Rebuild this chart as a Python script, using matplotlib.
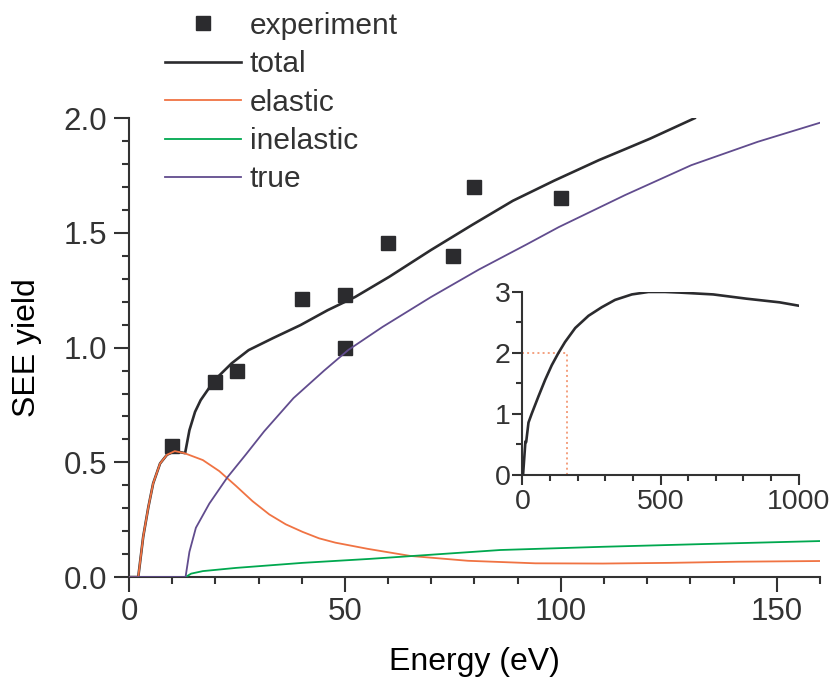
import matplotlib
matplotlib.use('Agg')
import matplotlib.pyplot as plt
from matplotlib.ticker import MultipleLocator

plt.rcParams['font.family'] = ['Liberation Sans', 'DejaVu Sans']
plt.rcParams['text.color'] = '#333333'

# experimental points
exp_E = [10, 20, 25, 40, 50, 50, 60, 75, 80, 100]
exp_yield = [0.57, 0.85, 0.90, 1.21, 1.23, 1.00, 1.455, 1.40, 1.70, 1.65]

# model curves
total_E = [0, 2.15, 3.3, 4.5, 5.6, 7.2, 8.8, 10.6, 13.0, 13.4, 14.0, 15.3, 16.6, 19.8, 23.8,
           27.7, 33.3, 39.7, 46.0, 52.4, 60.3, 69.9, 79.4, 88.9, 98.5, 108.8, 114.9, 120.7, 131]
total_yield = [0, 0, 0.176, 0.306, 0.408, 0.495, 0.533, 0.549, 0.540, 0.58, 0.64, 0.72, 0.771,
               0.858, 0.932, 0.989, 1.041, 1.098, 1.163, 1.221, 1.309, 1.425, 1.534, 1.640,
               1.728, 1.817, 1.865, 1.911, 2.0]

elastic_E = [0, 2.15, 3.3, 4.5, 5.6, 7.2, 8.8, 10.6, 12.85, 17.1, 20.9, 24.8, 28.6, 32.5,
             36.3, 40.2, 44.0, 47.8, 55.3, 65.2, 78.5, 94.1, 109.7, 125.3, 140.9, 160]
elastic_yield = [0, 0, 0.176, 0.306, 0.408, 0.495, 0.533, 0.549, 0.540, 0.51, 0.462, 0.397,
                 0.331, 0.273, 0.230, 0.197, 0.169, 0.150, 0.123, 0.092, 0.071, 0.060, 0.059,
                 0.062, 0.067, 0.070]

inelastic_E = [13.1, 14.4, 17.1, 24.8, 40.2, 55.5, 62.6, 86.0, 109.7, 133.1, 160]
inelastic_yield = [0, 0.015, 0.026, 0.040, 0.062, 0.079, 0.088, 0.118, 0.132, 0.144, 0.157]

true_E = [0, 13.1, 14.0, 15.5, 18.6, 22.8, 27.1, 31.3, 38.1, 45.2, 50.8, 58.7, 69.9, 81.0,
          92.1, 99.5, 114.9, 130.2, 145.6, 160]
true_yield = [0, 0, 0.11, 0.215, 0.32, 0.435, 0.535, 0.635, 0.78, 0.90, 0.99, 1.09, 1.22,
              1.34, 1.45, 1.525, 1.665, 1.795, 1.897, 1.980]

# inset: total yield up to 1 keV
inset_E = [0, 2, 10.6, 13.3, 21.7, 33.8, 57.9, 82, 106, 130, 154, 191, 239, 287, 335, 396,
           456, 516, 569, 690, 811, 931, 1000]
inset_total = [0, 0, 0.55, 0.54, 0.86, 1.01, 1.29, 1.56, 1.80, 2.0, 2.18, 2.41, 2.61, 2.75,
               2.87, 2.96, 3.0, 3.0, 2.99, 2.96, 2.89, 2.83, 2.775]
box_E = [0, 160, 160, 0, 0]
box_yield = [2, 2, 0, 0, 2]

c_black = '#2b2b2e'
c_elastic = '#f07343'
c_inelastic = '#00a84f'
c_true = '#614c8e'
c_axis = '#333333'

fig = plt.figure(figsize=(8.32, 6.87), dpi=100)
ax = fig.add_axes([0.155, 0.160, 0.8305, 0.668])

ax.plot(exp_E, exp_yield, 's', color=c_black, markersize=10, label='experiment', zorder=2)
ax.plot(total_E, total_yield, '-', color=c_black, lw=1.9, label='total', zorder=3)
ax.plot(elastic_E, elastic_yield, '-', color=c_elastic, lw=1.3, label='elastic', zorder=4)
ax.plot(inelastic_E, inelastic_yield, '-', color=c_inelastic, lw=1.3, label='inelastic', zorder=4)
ax.plot(true_E, true_yield, '-', color=c_true, lw=1.3, label='true', zorder=5)

ax.set_xlim(0, 160)
ax.set_ylim(0, 2.0)
ax.xaxis.set_major_locator(MultipleLocator(50))
ax.xaxis.set_minor_locator(MultipleLocator(10))
ax.yaxis.set_major_locator(MultipleLocator(0.5))
ax.yaxis.set_minor_locator(MultipleLocator(0.1))
ax.yaxis.set_major_formatter(plt.FormatStrFormatter('%.1f'))
for s in ['top', 'right']:
    ax.spines[s].set_visible(False)
for s in ['left', 'bottom']:
    ax.spines[s].set_linewidth(1.5)
    ax.spines[s].set_color(c_axis)
ax.tick_params(which='major', direction='out', length=10.5, width=1.5, color=c_axis,
               labelsize=22.5, labelcolor='#333333')
ax.tick_params(which='minor', direction='out', length=5, width=1.5, color=c_axis)
ax.tick_params(axis='x', which='major', pad=4)
ax.tick_params(axis='y', which='major', pad=5)
ax.set_xlabel('Energy (eV)', fontsize=23, labelpad=14)
ax.set_ylabel('SEE yield', fontsize=23, labelpad=16)

leg = ax.legend(loc='upper left', bbox_to_anchor=(0.198, 0.983), bbox_transform=fig.transFigure,
                frameon=False, fontsize=21.5, handlelength=2.55, handletextpad=0.3,
                labelspacing=0.35, borderpad=0, borderaxespad=0)
for t in leg.get_texts():
    t.set_color('#333333')

# inset
ax_in = fig.add_axes([0.628, 0.3086, 0.332, 0.2664])
ax_in.plot(box_E, box_yield, ':', color='#f4a07e', lw=1.4, zorder=1)
ax_in.plot(inset_E, inset_total, '-', color=c_black, lw=1.9, zorder=3)
ax_in.set_xlim(0, 1000)
ax_in.set_ylim(0, 3)
ax_in.xaxis.set_major_locator(MultipleLocator(500))
ax_in.xaxis.set_minor_locator(MultipleLocator(100))
ax_in.yaxis.set_major_locator(MultipleLocator(1))
ax_in.yaxis.set_minor_locator(MultipleLocator(0.5))
ax_in.patch.set_alpha(0)
for s in ['top', 'right']:
    ax_in.spines[s].set_visible(False)
for s in ['left', 'bottom']:
    ax_in.spines[s].set_linewidth(1.5)
    ax_in.spines[s].set_color(c_axis)
ax_in.tick_params(which='major', direction='out', length=7, width=1.5, color=c_axis,
                  labelsize=20.5, labelcolor='#333333')
ax_in.tick_params(which='minor', direction='out', length=4, width=1.5, color=c_axis)
ax_in.tick_params(axis='x', pad=3)
ax_in.tick_params(axis='y', pad=1.5)

fig.savefig('out.png', dpi=100)
